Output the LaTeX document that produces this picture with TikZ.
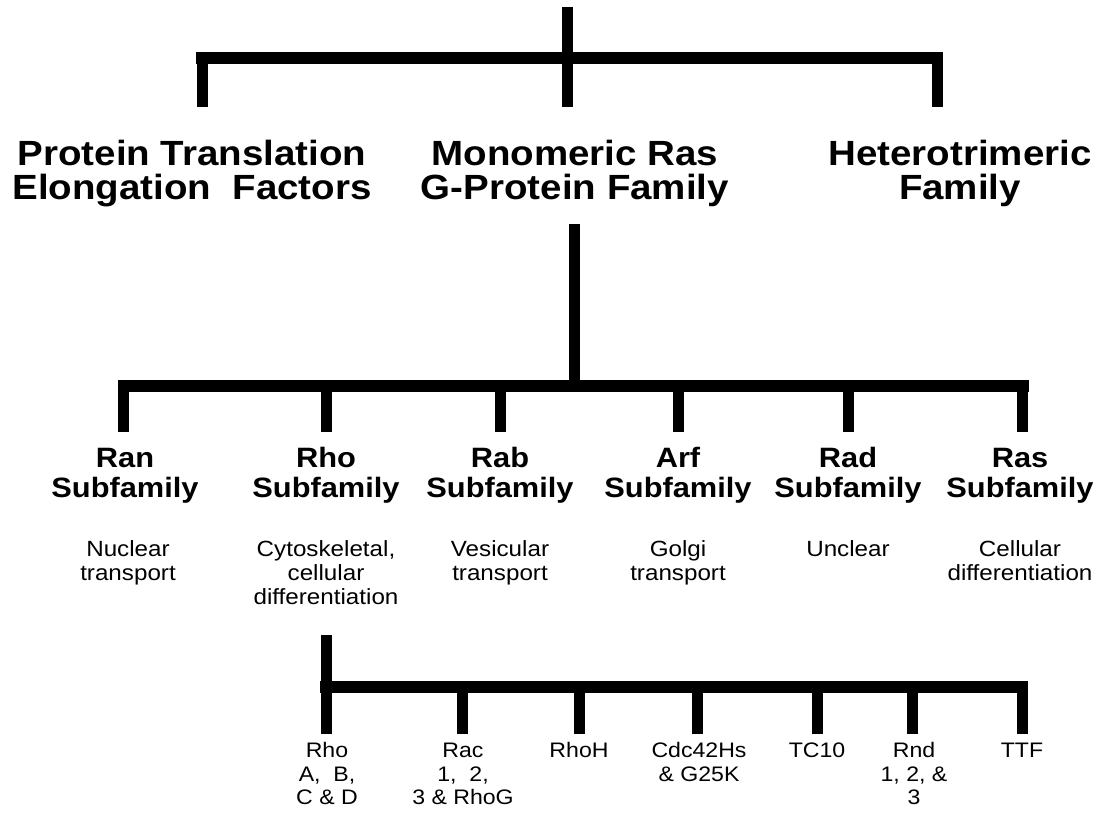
\documentclass[tikz,border=0pt]{standalone}
\usepackage{fontspec}
\setmainfont{Liberation Sans}[FakeStretch=1.1]

\newcommand{\capline}{\rule{0pt}{0.75em}}

\tikzset{
  bar/.style={line width=12pt, line cap=rect},
  stem/.style={line width=11pt},
  treelabel/.style={align=center, anchor=north, inner sep=0pt},
  famlabel/.style={treelabel, font=\bfseries\fontsize{35}{34}\selectfont},
  sublabel/.style={treelabel, font=\bfseries\fontsize{28}{30}\selectfont},
  rolelabel/.style={treelabel, font=\fontsize{22}{24}\selectfont},
  memberlabel/.style={treelabel, font=\fontsize{21}{23.5}\selectfont}
}

\begin{document}
\begin{tikzpicture}[x=1pt,y=-1pt]
  \useasboundingbox (0,0) rectangle (1102,812);

  %%%%% G-PROTEIN FAMILIES %%%%%
  \coordinate (root) at (567,7);
  \coordinate (j1) at (567,58);
  \coordinate (d-ptef) at (202,107);
  \coordinate (d-mras) at (567,107);
  \coordinate (d-htri) at (937,107);

  \draw[bar] (d-ptef |- j1) -- (d-htri |- j1);
  \draw[stem] (root) -- (d-mras);
  \draw[stem] (d-ptef |- j1) -- (d-ptef);
  \draw[stem] (d-htri |- j1) -- (d-htri);

  \node[famlabel] (ptef) at (192,139) {\capline Protein Translation\\Elongation \ Factors};
  \node[famlabel] (mras) at (575,139) {\capline Monomeric Ras\\G-Protein Family};
  \node[famlabel] (htri) at (960,139) {\capline Heterotrimeric\\Family};

  %%%%% RAS SUBFAMILIES %%%%%
  \coordinate (j2top) at (574,224);
  \coordinate (j2) at (574,386);
  \coordinate (d-ran) at (123.5,432);
  \coordinate (d-rho) at (326,432);
  \coordinate (d-rab) at (500,432);
  \coordinate (d-arf) at (678,432);
  \coordinate (d-rad) at (848,432);
  \coordinate (d-ras) at (1022.5,432);

  \draw[stem] (j2top) -- (j2);
  \draw[bar] (d-ran |- j2) -- (d-ras |- j2);
  \draw[stem] (d-ran |- j2) -- (d-ran);
  \draw[stem] (d-rho |- j2) -- (d-rho);
  \draw[stem] (d-rab |- j2) -- (d-rab);
  \draw[stem] (d-arf |- j2) -- (d-arf);
  \draw[stem] (d-rad |- j2) -- (d-rad);
  \draw[stem] (d-ras |- j2) -- (d-ras);

  \node[sublabel] (ran) at (125,446) {\capline Ran\\Subfamily};
  \node[sublabel] (rho) at (326,446) {\capline Rho\\Subfamily};
  \node[sublabel] (rab) at (500,446) {\capline Rab\\Subfamily};
  \node[sublabel] (arf) at (678,446) {\capline Arf\\Subfamily};
  \node[sublabel] (rad) at (848,446) {\capline Rad\\Subfamily};
  \node[sublabel] (ras) at (1020,446) {\capline Ras\\Subfamily};

  \node[rolelabel] (ran-role) at (128,539.5) {\capline Nuclear\\transport};
  \node[rolelabel] (rho-role) at (326,539.5) {\capline Cytoskeletal,\\cellular\\differentiation};
  \node[rolelabel] (rab-role) at (500,539.5) {\capline Vesicular\\transport};
  \node[rolelabel] (arf-role) at (678,539.5) {\capline Golgi\\transport};
  \node[rolelabel] (rad-role) at (848,539.5) {\capline Unclear};
  \node[rolelabel] (ras-role) at (1020,539.5) {\capline Cellular\\differentiation};

  %%%%% RHO MEMBERS %%%%%
  \coordinate (j3top) at (326,635);
  \coordinate (j3) at (326,687);
  \coordinate (m-rho) at (326,734);
  \coordinate (m-rac) at (462,734);
  \coordinate (m-rhoh) at (579,734);
  \coordinate (m-cdc) at (697,734);
  \coordinate (m-tc) at (817,734);
  \coordinate (m-rnd) at (912,734);
  \coordinate (m-ttf) at (1022,734);

  \draw[stem] (j3top) -- (m-rho);
  \draw[bar] (j3) -- (m-ttf |- j3);
  \draw[stem] (m-rac |- j3) -- (m-rac);
  \draw[stem] (m-rhoh |- j3) -- (m-rhoh);
  \draw[stem] (m-cdc |- j3) -- (m-cdc);
  \draw[stem] (m-tc |- j3) -- (m-tc);
  \draw[stem] (m-rnd |- j3) -- (m-rnd);
  \draw[stem] (m-ttf |- j3) -- (m-ttf);

  \node[memberlabel] (rho-abcd) at (327,742) {\capline Rho\\A, \ B,\\C \& D};
  \node[memberlabel] (rac-123) at (463,742) {\capline Rac\\1, \ 2,\\3 \& RhoG};
  \node[memberlabel] (rhoh) at (579,742) {\capline RhoH};
  \node[memberlabel] (cdc42) at (699,742) {\capline Cdc42Hs\\\& G25K};
  \node[memberlabel] (tc10) at (817,742) {\capline TC10};
  \node[memberlabel] (rnd-123) at (914,742) {\capline Rnd\\1, 2, \&\\3};
  \node[memberlabel] (ttf) at (1022,742) {\capline TTF};
\end{tikzpicture}
\end{document}
